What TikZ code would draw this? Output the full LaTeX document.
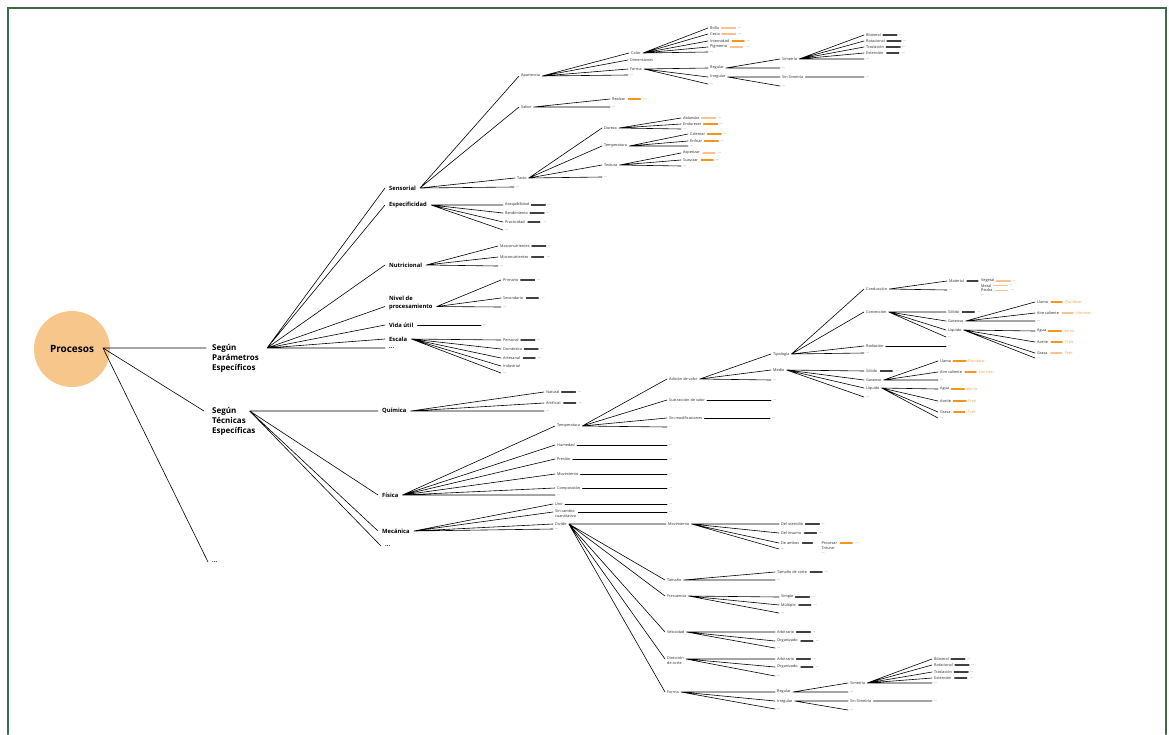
\documentclass[tikz,border=0pt]{standalone}
\usepackage{fontspec}
\setmainfont{Open Sans}
\usetikzlibrary{calc}
\definecolor{ProcesosPeach}{HTML}{F7C68A}
\definecolor{FrameGreen}{HTML}{3E6B4A}
\definecolor{LeaderOrange}{HTML}{F7941D}
\definecolor{LeaderPeach}{HTML}{F9C28C}
\definecolor{TextOrange}{HTML}{F8A545}
\colorlet{LeaderDark}{black!75}
\tikzset{
  Root/.style={circle, fill=ProcesosPeach, minimum size=76pt, inner sep=0pt, font=\bfseries\fontsize{10}{12}\selectfont},
  Group/.style={anchor=north west, align=left, inner sep=0pt, font=\bfseries\fontsize{8}{10}\selectfont},
  Cat/.style={anchor=west, inner xsep=4pt, inner ysep=0.5pt, font=\bfseries\fontsize{5.8}{8}\selectfont},
  Tag/.style={anchor=west, inner xsep=2pt, inner ysep=0.3pt, text=black!85, font=\fontsize{3.8}{4.3}\selectfont},
  Dots/.style={Tag, text=black!70},
  OrangeTag/.style={Tag, text=TextOrange},
  OrangeDots/.style={Tag, text=TextOrange!80},
  Branch/.style={line width=0.6pt},
  Lead/.style={line width=1.1pt, shorten <=1pt, shorten >=1pt},
  LeadDark/.style={Lead, draw=LeaderDark},
  LeadOrange/.style={Lead, draw=LeaderOrange},
  LeadPeach/.style={Lead, draw=LeaderPeach}
}
\begin{document}
\begin{tikzpicture}[x=1pt, y=-1pt, line cap=round]
    \path[use as bounding box] (0,0) rectangle (1169,734);
    \draw[FrameGreen, line width=2.4pt] (8,734) -- (8,8) -- (1166,8) -- (1166,734);

    \node[Root] (proc) at (72,349) {Procesos};
    \coordinate (proc-o) at ($(proc.center)+(31,-1)$);
    \node[Group] (par) at (212,344.5) {Según\\Parámetros\\Específicos};
    \node[Group] (tec) at (212,407.5) {Según\\Técnicas\\Específicas};
    \node[Cat] (etc0) at (208,562) {...};
    \coordinate (par-i) at ($(par.north west)+(-6,3.5)$);
    \coordinate (par-o) at ($(par.north east)+(8,3.5)$);
    \coordinate (tec-i) at ($(tec.north west)+(-8,3.5)$);
    \coordinate (tec-o) at ($(tec.north east)+(-6,3.5)$);
    \draw[Branch] (proc-o) -- (par-i) (proc-o) -- (tec-i) (proc-o) -- (etc0.west);

    \node[Cat] (sen) at (385,188) {Sensorial};
    \node[Cat] (esp) at (385,205) {Especificidad};
    \node[Cat] (nut) at (385,265) {Nutricional};
    \node[Cat, anchor=north west, align=left] (niv) at (385,295) {Nivel de\\procesamiento};
    \coordinate (niv-i) at ($(niv.north west)+(0,11.5)$);
    \coordinate (niv-o) at ($(niv.north east)+(0,11.5)$);
    \node[Cat] (vid) at (385,325) {Vida útil};
    \node[Cat] (esc) at (385,339) {Escala};
    \node[Cat] (etc1) at (385,348) {...};
    \draw[Branch] (par-o) -- (sen.west) (par-o) -- (esp.west) (par-o) -- (nut.west) (par-o) -- (niv-i)
        (par-o) -- (vid.west) (par-o) -- (esc.west) (par-o) -- (etc1.west);

    \node[Tag] (apa) at (519,76) {Apariencia};
    \node[Tag] (sab) at (519,107) {Sabor};
    \node[Tag] (tac) at (515,178) {Tacto};
    \node[Dots] (sen-d) at (514,187) {...};
    \draw[Branch] (sen.east) -- (apa.west) (sen.east) -- (sab.west) (sen.east) -- (tac.west) (sen.east) -- (sen-d.west);

    \node[Tag] (col) at (629,53) {Color};
    \node[Tag] (dim) at (628,60) {Dimensiones};
    \node[Tag] (for) at (628,69) {Forma};
    \node[Dots] (apa-d) at (628,75) {...};
    \draw[Branch] (apa.east) -- (col.west) (apa.east) -- (dim.west) (apa.east) -- (for.west) (apa.east) -- (apa-d.west);

    \node[Tag] (bri) at (708,28) {Brillo};
    \node[Tag] (ces) at (708,34) {Cesia};
    \node[Tag] (int) at (708,41) {Intensidad};
    \node[Tag] (pig) at (708,47) {Pigmento};
    \node[Dots] (col-d) at (708,52) {...};
    \draw[Branch] (col.east) -- (bri.west) (col.east) -- (ces.west) (col.east) -- (int.west) (col.east) -- (pig.west) (col.east) -- (col-d.west);
    \node[Dots] (bri-d) at ($(bri.east)+(14,0)$) {...};
    \node[Dots] (ces-d) at ($(ces.east)+(14,0)$) {...};
    \node[Dots] (int-d) at ($(int.east)+(14,0)$) {...};
    \node[Dots] (pig-d) at ($(pig.east)+(14,0)$) {...};
    \draw[LeadPeach] (bri.east) -- (bri-d.west) (ces.east) -- (ces-d.west) (pig.east) -- (pig-d.west);
    \draw[LeadOrange] (int.east) -- (int-d.west);

    \node[Tag] (reg) at (708,68) {Regular};
    \node[Tag] (irr) at (708,77) {Irregular};
    \node[Dots] (for-d) at (708,84) {...};
    \draw[Branch] (for.east) -- (reg.west) (for.east) -- (irr.west) (for.east) -- (for-d.west);
    \node[Tag] (sim) at (780,59) {Simetría};
    \node[Dots] (reg-d) at (780,68) {...};
    \node[Tag] (ssi) at (780,77) {Sin Simetría};
    \node[Dots] (irr-d) at (780,86) {...};
    \draw[Branch] (reg.east) -- (sim.west) (reg.east) -- (reg-d.west) (irr.east) -- (ssi.west) (irr.east) -- (irr-d.west);
    \node[Tag] (bil) at (864,35) {Bilateral};
    \node[Tag] (rot) at (864,41) {Rotacional};
    \node[Tag] (tra) at (864,47) {Traslación};
    \node[Tag] (ext) at (864,53) {Extensión};
    \node[Dots] (sim-d) at (864,59) {...};
    \node[Dots] (ssi-d) at (864,77) {...};
    \draw[Branch] (sim.east) -- (bil.west) (sim.east) -- (rot.west) (sim.east) -- (tra.west) (sim.east) -- (ext.west) (sim.east) -- (sim-d.west)
        (ssi.east) -- (ssi-d.west);
    \node[Dots] (bil-d) at ($(bil.east)+(14,0)$) {...};
    \node[Dots] (rot-d) at ($(rot.east)+(14,0)$) {...};
    \node[Dots] (tra-d) at ($(tra.east)+(14,0)$) {...};
    \node[Dots] (ext-d) at ($(ext.east)+(14,0)$) {...};
    \draw[LeadDark] (bil.east) -- (bil-d.west) (rot.east) -- (rot-d.west) (tra.east) -- (tra-d.west) (ext.east) -- (ext-d.west);

    \node[Tag] (rea) at (610,99) {Realzar};
    \node[Dots] (sab-d) at (610,107) {...};
    \draw[Branch] (sab.east) -- (rea.west) (sab.east) -- (sab-d.west);
    \node[Dots] (rea-d) at ($(rea.east)+(14,0)$) {...};
    \draw[LeadOrange] (rea.east) -- (rea-d.west);

    \node[Tag] (dur) at (602,128) {Dureza};
    \node[Tag] (tem) at (602,146) {Temperatura};
    \node[Tag] (tex) at (602,165) {Textura};
    \node[Dots] (tac-d) at (602,177) {...};
    \draw[Branch] (tac.east) -- (dur.west) (tac.east) -- (tem.west) (tac.east) -- (tex.west) (tac.east) -- (tac-d.west);
    \node[Tag] (abl) at (681,118) {Ablandar};
    \node[Tag] (endu) at (681,124) {Endurecer};
    \node[Dots] (dur-d) at (681,129) {...};
    \node[Tag] (cal) at (688,134) {Calentar};
    \node[Tag] (enf) at (688,141) {Enfriar};
    \node[Dots] (tem-d) at (688,146) {...};
    \node[Tag] (asp) at (681,153) {Asperizar};
    \node[Tag] (sua) at (681,160) {Suavizar};
    \node[Dots] (tex-d) at (681,166) {...};
    \draw[Branch] (dur.east) -- (abl.west) (dur.east) -- (endu.west) (dur.east) -- (dur-d.west)
        (tem.east) -- (cal.west) (tem.east) -- (enf.west) (tem.east) -- (tem-d.west)
        (tex.east) -- (asp.west) (tex.east) -- (sua.west) (tex.east) -- (tex-d.west);
    \node[Dots] (abl-d) at ($(abl.east)+(14,0)$) {...};
    \node[Dots] (endu-d) at ($(endu.east)+(14,0)$) {...};
    \node[Dots] (cal-d) at ($(cal.east)+(14,0)$) {...};
    \node[Dots] (enf-d) at ($(enf.east)+(14,0)$) {...};
    \node[Dots] (asp-d) at ($(asp.east)+(14,0)$) {...};
    \node[Dots] (sua-d) at ($(sua.east)+(14,0)$) {...};
    \draw[LeadPeach] (abl.east) -- (abl-d.west) (asp.east) -- (asp-d.west);
    \draw[LeadOrange] (endu.east) -- (endu-d.west) (cal.east) -- (cal-d.west) (enf.east) -- (enf-d.west) (sua.east) -- (sua-d.west);

    \node[Tag] (ase) at (503,205) {Asequibilidad};
    \node[Tag] (ren) at (503,213) {Rendimiento};
    \node[Tag] (pra) at (503,222) {Practicidad};
    \node[Dots] (esp-d) at (503,230) {...};
    \draw[Branch] (esp.east) -- (ase.west) (esp.east) -- (ren.west) (esp.east) -- (pra.west) (esp.east) -- (esp-d.west);
    \node[Dots] (ase-d) at ($(ase.east)+(14,0)$) {...};
    \node[Dots] (ren-d) at ($(ren.east)+(14,0)$) {...};
    \node[Dots] (pra-d) at ($(pra.east)+(14,0)$) {...};
    \draw[LeadDark] (ase.east) -- (ase-d.west) (ren.east) -- (ren-d.west) (pra.east) -- (pra-d.west);

    \node[Tag] (mac) at (498,246) {Macronutrientes};
    \node[Tag] (mic) at (498,257) {Micronutrientes};
    \node[Dots] (nut-d) at (498,266) {...};
    \draw[Branch] (nut.east) -- (mac.west) (nut.east) -- (mic.west) (nut.east) -- (nut-d.west);
    \node[Dots] (mac-d) at ($(mac.east)+(14,0)$) {...};
    \node[Dots] (mic-d) at ($(mic.east)+(14,0)$) {...};
    \draw[LeadDark] (mac.east) -- (mac-d.west) (mic.east) -- (mic-d.west);

    \node[Tag] (pri) at (501,280) {Primario};
    \node[Tag] (sec) at (501,298) {Secundario};
    \node[Dots] (niv-d) at (501,307) {...};
    \draw[Branch] (niv-o) -- (pri.west) (niv-o) -- (sec.west) (niv-o) -- (niv-d.west);
    \node[Dots] (pri-d) at ($(pri.east)+(14,0)$) {...};
    \node[Dots] (sec-d) at ($(sec.east)+(14,0)$) {...};
    \draw[LeadDark] (pri.east) -- (pri-d.west) (sec.east) -- (sec-d.west);

    \node[Dots] (vid-d) at (481,325) {...};
    \draw[Branch] (vid.east) -- (vid-d.west);

    \node[Tag] (per) at (501,340) {Personal};
    \node[Tag] (dom) at (501,349) {Doméstica};
    \node[Tag] (art) at (501,358) {Artesanal};
    \node[Tag] (ind) at (501,366) {Industrial};
    \node[Dots] (esc-d) at (501,373) {...};
    \draw[Branch] (esc.east) -- (per.west) (esc.east) -- (dom.west) (esc.east) -- (art.west) (esc.east) -- (ind.west) (esc.east) -- (esc-d.west);
    \node[Dots] (per-d) at ($(per.east)+(14,0)$) {...};
    \node[Dots] (dom-d) at ($(dom.east)+(14,0)$) {...};
    \node[Dots] (art-d) at ($(art.east)+(14,0)$) {...};
    \draw[LeadDark] (per.east) -- (per-d.west) (dom.east) -- (dom-d.west) (art.east) -- (art-d.west);

    \node[Cat] (qui) at (378,411) {Química};
    \node[Cat] (fis) at (378,495) {Física};
    \node[Cat] (mec) at (378,531) {Mecánica};
    \node[Cat] (tec-d) at (381,546) {...};
    \draw[Branch] (tec-o) -- (qui.west) (tec-o) -- (fis.west) (tec-o) -- (mec.west) (tec-o) -- (tec-d.west);

    \node[Tag] (nat) at (544,392) {Natural};
    \node[Tag] (arf) at (544,403) {Artificial};
    \node[Dots] (qui-d) at (544,411) {...};
    \draw[Branch] (qui.east) -- (nat.west) (qui.east) -- (arf.west) (qui.east) -- (qui-d.west);
    \node[Dots] (nat-d) at ($(nat.east)+(14,0)$) {...};
    \node[Dots] (arf-d) at ($(arf.east)+(14,0)$) {...};
    \draw[LeadDark] (nat.east) -- (nat-d.west) (arf.east) -- (arf-d.west);

    \node[Tag] (ftem) at (555,426) {Temperatura};
    \node[Tag] (hum) at (555,445) {Humedad};
    \node[Tag] (pre) at (555,459) {Presión};
    \node[Tag] (mov) at (555,474) {Movimiento};
    \node[Tag] (com) at (555,488) {Composición};
    \node[Dots] (fis-d) at (555,495) {...};
    \draw[Branch] (fis.east) -- (ftem.west) (fis.east) -- (hum.west) (fis.east) -- (pre.west) (fis.east) -- (mov.west)
        (fis.east) -- (com.west) (fis.east) -- (fis-d.west);
    \node[Dots] (hum-d) at (667,445) {...};
    \node[Dots] (pre-d) at (667,459) {...};
    \node[Dots] (mov-d) at (667,474) {...};
    \node[Dots] (com-d) at (667,488) {...};
    \draw[Branch] (hum.east) -- (hum-d.west) (pre.east) -- (pre-d.west) (mov.east) -- (mov-d.west) (com.east) -- (com-d.west);

    \node[Tag] (adi) at (667,379) {Adición de valor};
    \node[Tag] (sus) at (667,400) {Sustracción de valor};
    \node[Tag] (sin) at (667,418) {Sin modificaciones};
    \node[Dots] (ftem-d) at (667,427) {...};
    \draw[Branch] (ftem.east) -- (adi.west) (ftem.east) -- (sus.west) (ftem.east) -- (sin.west) (ftem.east) -- (ftem-d.west);
    \node[Dots] (sus-d) at (771,400) {...};
    \node[Dots] (sin-d) at (770,418) {...};
    \draw[Branch] (sus.east) -- (sus-d.west) (sin.east) -- (sin-d.west);

    \node[Tag] (tip) at (771,354) {Tipología};
    \node[Tag] (med) at (771,370) {Medio};
    \node[Dots] (adi-d) at (771,380) {...};
    \draw[Branch] (adi.east) -- (tip.west) (adi.east) -- (med.west) (adi.east) -- (adi-d.west);

    \node[Tag] (cnd) at (864,289) {Conducción};
    \node[Tag] (cnv) at (864,312) {Convección};
    \node[Tag] (rad) at (864,346) {Radiación};
    \node[Dots] (tip-d) at (864,353) {...};
    \draw[Branch] (tip.east) -- (cnd.west) (tip.east) -- (cnv.west) (tip.east) -- (rad.west) (tip.east) -- (tip-d.west);
    \node[Dots] (rad-d) at (946,346) {...};
    \draw[Branch] (rad.east) -- (rad-d.west);

    \node[Tag] (mat) at (947,281) {Material};
    \node[Dots] (cnd-d) at (947,290) {...};
    \draw[Branch] (cnd.east) -- (mat.west) (cnd.east) -- (cnd-d.west);
    \node[Tag] (veg) at ($(mat.east)+(13,0)$) {Vegetal};
    \node[Tag] (met) at ($(veg.west)+(0,4.6)$) {Metal};
    \node[Tag] (pie) at ($(veg.west)+(0,9.2)$) {Piedra};
    \node[Dots] (mat-d) at ($(veg.west)+(0,14)$) {...};
    \draw[LeadDark] (mat.east) -- (veg.west);
    \node[Dots] (veg-d) at ($(veg.east)+(14,0)$) {...};
    \node[Dots] (met-d) at ($(met.east)+(14,0)$) {...};
    \node[Dots] (pie-d) at ($(pie.east)+(14,0)$) {...};
    \draw[LeadPeach] (veg.east) -- (veg-d.west) (met.east) -- (met-d.west) (pie.east) -- (pie-d.west);

    \node[Tag] (sol1) at (946,312) {Sólido};
    \node[Tag] (gas1) at (946,321) {Gaseoso};
    \node[Tag] (liq1) at (946,330) {Líquido};
    \node[Dots] (cnv-d) at (946,337) {...};
    \draw[Branch] (cnv.east) -- (sol1.west) (cnv.east) -- (gas1.west) (cnv.east) -- (liq1.west) (cnv.east) -- (cnv-d.west);
    \node[Dots] (sol1-d) at ($(sol1.east)+(14,0)$) {...};
    \draw[LeadDark] (sol1.east) -- (sol1-d.west);

    \node[Tag] (lla1) at (1035,302) {Llama};
    \node[Tag] (aic1) at (1035,313) {Aire caliente};
    \node[Dots] (gas1-d) at (1035,321) {...};
    \draw[Branch] (gas1.east) -- (lla1.west) (gas1.east) -- (aic1.west) (gas1.east) -- (gas1-d.west);
    \node[OrangeTag] (fla1) at ($(lla1.east)+(13,0)$) {Flambear};
    \node[OrangeTag] (hor1) at ($(aic1.east)+(13,0)$) {Hornear};
    \node[OrangeDots, anchor=north west] (fla1-d) at (fla1.south west) {...};
    \node[OrangeDots, anchor=north west] (hor1-d) at (hor1.south west) {...};
    \draw[LeadOrange] (lla1.east) -- (fla1.west);
    \draw[LeadPeach] (aic1.east) -- (hor1.west);

    \node[Tag] (agu1) at (1035,331) {Agua};
    \node[Tag] (ace1) at (1035,342) {Aceite};
    \node[Tag] (gra1) at (1035,353) {Grasa};
    \node[Dots] (liq1-d) at (1035,358) {...};
    \draw[Branch] (liq1.east) -- (agu1.west) (liq1.east) -- (ace1.west) (liq1.east) -- (gra1.west) (liq1.east) -- (liq1-d.west);
    \node[OrangeTag] (her1) at ($(agu1.east)+(13,0)$) {Hervir};
    \node[OrangeTag] (fri1) at ($(ace1.east)+(13,0)$) {Freír};
    \node[OrangeTag] (fri2) at ($(gra1.east)+(13,0)$) {Freír};
    \node[OrangeDots, anchor=north west] (her1-d) at (her1.south west) {...};
    \node[OrangeDots, anchor=north west] (fri1-d) at (fri1.south west) {...};
    \node[OrangeDots, anchor=north west] (fri2-d) at (fri2.south west) {...};
    \draw[LeadOrange] (agu1.east) -- (her1.west) (ace1.east) -- (fri1.west);
    \draw[LeadPeach] (gra1.east) -- (fri2.west);

    \node[Tag] (sol2) at (864,371) {Sólido};
    \node[Tag] (gas2) at (864,380) {Gaseoso};
    \node[Tag] (liq2) at (864,388) {Líquido};
    \node[Dots] (med-d) at (864,397) {...};
    \draw[Branch] (med.east) -- (sol2.west) (med.east) -- (gas2.west) (med.east) -- (liq2.west) (med.east) -- (med-d.west);
    \node[Dots] (sol2-d) at ($(sol2.east)+(14,0)$) {...};
    \draw[LeadDark] (sol2.east) -- (sol2-d.west);

    \node[Tag] (lla2) at (938,361) {Llama};
    \node[Tag] (aic2) at (938,372) {Aire caliente};
    \node[Dots] (gas2-d) at (938,380) {...};
    \draw[Branch] (gas2.east) -- (lla2.west) (gas2.east) -- (aic2.west) (gas2.east) -- (gas2-d.west);
    \node[OrangeTag] (fla2) at ($(lla2.east)+(13,0)$) {Flambear};
    \node[OrangeTag] (hor2) at ($(aic2.east)+(13,0)$) {Hornear};
    \node[OrangeDots, anchor=north west] (hor2-d) at (hor2.south west) {...};
    \draw[LeadOrange] (lla2.east) -- (fla2.west) (aic2.east) -- (hor2.west);

    \node[Tag] (agu2) at (938,389) {Agua};
    \node[Tag] (ace2) at (938,401) {Aceite};
    \node[Tag] (gra2) at (938,412) {Grasa};
    \node[Dots] (liq2-d) at (938,418) {...};
    \draw[Branch] (liq2.east) -- (agu2.west) (liq2.east) -- (ace2.west) (liq2.east) -- (gra2.west) (liq2.east) -- (liq2-d.west);
    \node[OrangeTag] (her2) at ($(agu2.east)+(13,0)$) {Hervir};
    \node[OrangeTag] (fri3) at ($(ace2.east)+(13,0)$) {Freír};
    \node[OrangeTag] (fri4) at ($(gra2.east)+(13,0)$) {Freír};
    \node[OrangeDots, anchor=north west] (her2-d) at (her2.south west) {...};
    \node[OrangeDots, anchor=north west] (fri3-d) at (fri3.south west) {...};
    \node[OrangeDots, anchor=north west] (fri4-d) at (fri4.south west) {...};
    \draw[LeadOrange] (agu2.east) -- (her2.west) (ace2.east) -- (fri3.west) (gra2.east) -- (fri4.west);

    \node[Tag] (uni) at (553,504) {Unir};
    \node[Tag, anchor=north west, align=left] (sca) at (553,509.5) {Sin cambio\\cuantitativo};
    \coordinate (sca-i) at ($(sca.north west)+(0,2.5)$);
    \coordinate (sca-o) at ($(sca.north east)+(0,2.5)$);
    \node[Tag] (div) at (553,524) {Dividir};
    \node[Dots] (mec-d) at (553,529) {...};
    \draw[Branch] (mec.east) -- (uni.west) (mec.east) -- (sca-i) (mec.east) -- (div.west) (mec.east) -- (mec-d.west);
    \node[Dots] (uni-d) at (667,504) {...};
    \node[Dots] (sca-d) at (667,512) {...};
    \draw[Branch] (uni.east) -- (uni-d.west) (sca-o) -- (sca-d.west);

    \node[Tag] (dmov) at (666,524) {Movimiento};
    \node[Tag] (tam) at (665,580) {Tamaño};
    \node[Tag] (fre) at (665,596) {Frecuencia};
    \node[Tag] (vel) at (665,632) {Velocidad};
    \node[Tag, anchor=north west, align=left] (dir) at (665,656.5) {Dirección\\de corte};
    \coordinate (dir-i) at ($(dir.north west)+(0,2.5)$);
    \coordinate (dir-o) at ($(dir.north east)+(0,2.5)$);
    \node[Tag] (dfor) at (665,692) {Forma};
    \draw[Branch] (div.east) -- (dmov.west) (div.east) -- (tam.west) (div.east) -- (fre.west) (div.east) -- (vel.west)
        (div.east) -- (dir-i) (div.east) -- (dfor.west);

    \node[Tag] (ute) at (779,524) {Del utensilio};
    \node[Tag] (ins) at (779,533) {Del insumo};
    \node[Tag] (amb) at (779,543) {De ambos};
    \node[Dots] (dmov-d) at (779,549) {...};
    \draw[Branch] (dmov.east) -- (ute.west) (dmov.east) -- (ins.west) (dmov.east) -- (amb.west) (dmov.east) -- (dmov-d.west);
    \node[Dots] (ute-d) at ($(ute.east)+(14,0)$) {...};
    \node[Dots] (ins-d) at ($(ins.east)+(14,0)$) {...};
    \draw[LeadDark] (ute.east) -- (ute-d.west) (ins.east) -- (ins-d.west);
    \node[Tag] (prc) at ($(amb.east)+(18,0)$) {Procesar};
    \node[Tag] (tri) at ($(prc.west)+(0,5)$) {Triturar};
    \node[Dots] (amb-d) at ($(prc.west)+(0,10)$) {...};
    \draw[LeadDark, shorten >=7pt] (amb.east) -- (prc.west);
    \node[Dots] (prc-d) at ($(prc.east)+(14,0)$) {...};
    \draw[LeadOrange] (prc.east) -- (prc-d.west);

    \node[Tag] (tco) at (775,572) {Tamaño de corte};
    \node[Dots] (tam-d) at (775,580) {...};
    \draw[Branch] (tam.east) -- (tco.west) (tam.east) -- (tam-d.west);
    \node[Dots] (tco-d) at ($(tco.east)+(14,0)$) {...};
    \draw[LeadDark] (tco.east) -- (tco-d.west);

    \node[Tag] (smp) at (779,597) {Simple};
    \node[Tag] (mul) at (779,605) {Múltiple};
    \node[Dots] (fre-d) at (779,613) {...};
    \draw[Branch] (fre.east) -- (smp.west) (fre.east) -- (mul.west) (fre.east) -- (fre-d.west);
    \node[Dots] (smp-d) at ($(smp.east)+(14,0)$) {...};
    \node[Dots] (mul-d) at ($(mul.east)+(14,0)$) {...};
    \draw[LeadDark] (smp.east) -- (smp-d.west) (mul.east) -- (mul-d.west);

    \node[Tag] (arb1) at (775,632) {Arbitrario};
    \node[Tag] (org1) at (775,641) {Organizado};
    \node[Dots] (vel-d) at (775,648) {...};
    \draw[Branch] (vel.east) -- (arb1.west) (vel.east) -- (org1.west) (vel.east) -- (vel-d.west);
    \node[Dots] (arb1-d) at ($(arb1.east)+(14,0)$) {...};
    \node[Dots] (org1-d) at ($(org1.east)+(14,0)$) {...};
    \draw[LeadDark] (arb1.east) -- (arb1-d.west) (org1.east) -- (org1-d.west);

    \node[Tag] (arb2) at (775,659) {Arbitrario};
    \node[Tag] (org2) at (775,667) {Organizado};
    \node[Dots] (dir-d) at (775,676) {...};
    \draw[Branch] (dir-o) -- (arb2.west) (dir-o) -- (org2.west) (dir-o) -- (dir-d.west);
    \node[Dots] (arb2-d) at ($(arb2.east)+(14,0)$) {...};
    \node[Dots] (org2-d) at ($(org2.east)+(14,0)$) {...};
    \draw[LeadDark] (arb2.east) -- (arb2-d.west) (org2.east) -- (org2-d.west);

    \node[Tag] (reg2) at (775,692) {Regular};
    \node[Tag] (irr2) at (775,701) {Irregular};
    \node[Dots] (dfor-d) at (775,709) {...};
    \draw[Branch] (dfor.east) -- (reg2.west) (dfor.east) -- (irr2.west) (dfor.east) -- (dfor-d.west);
    \node[Tag] (sim2) at (848,683) {Simetría};
    \node[Dots] (reg2-d) at (848,692) {...};
    \node[Tag] (ssi2) at (848,701) {Sin Simetría};
    \node[Dots] (irr2-d) at (848,710) {...};
    \draw[Branch] (reg2.east) -- (sim2.west) (reg2.east) -- (reg2-d.west) (irr2.east) -- (ssi2.west) (irr2.east) -- (irr2-d.west);
    \node[Tag] (bil2) at (932,659) {Bilateral};
    \node[Tag] (rot2) at (932,665) {Rotacional};
    \node[Tag] (tra2) at (932,672) {Traslación};
    \node[Tag] (ext2) at (932,678) {Extensión};
    \node[Dots] (sim2-d) at (932,683) {...};
    \node[Dots] (ssi2-d) at (932,701) {...};
    \draw[Branch] (sim2.east) -- (bil2.west) (sim2.east) -- (rot2.west) (sim2.east) -- (tra2.west) (sim2.east) -- (ext2.west)
        (sim2.east) -- (sim2-d.west) (ssi2.east) -- (ssi2-d.west);
    \node[Dots] (bil2-d) at ($(bil2.east)+(14,0)$) {...};
    \node[Dots] (rot2-d) at ($(rot2.east)+(14,0)$) {...};
    \node[Dots] (tra2-d) at ($(tra2.east)+(14,0)$) {...};
    \node[Dots] (ext2-d) at ($(ext2.east)+(14,0)$) {...};
    \draw[LeadDark] (bil2.east) -- (bil2-d.west) (rot2.east) -- (rot2-d.west) (tra2.east) -- (tra2-d.west) (ext2.east) -- (ext2-d.west);
\end{tikzpicture}
\end{document}
